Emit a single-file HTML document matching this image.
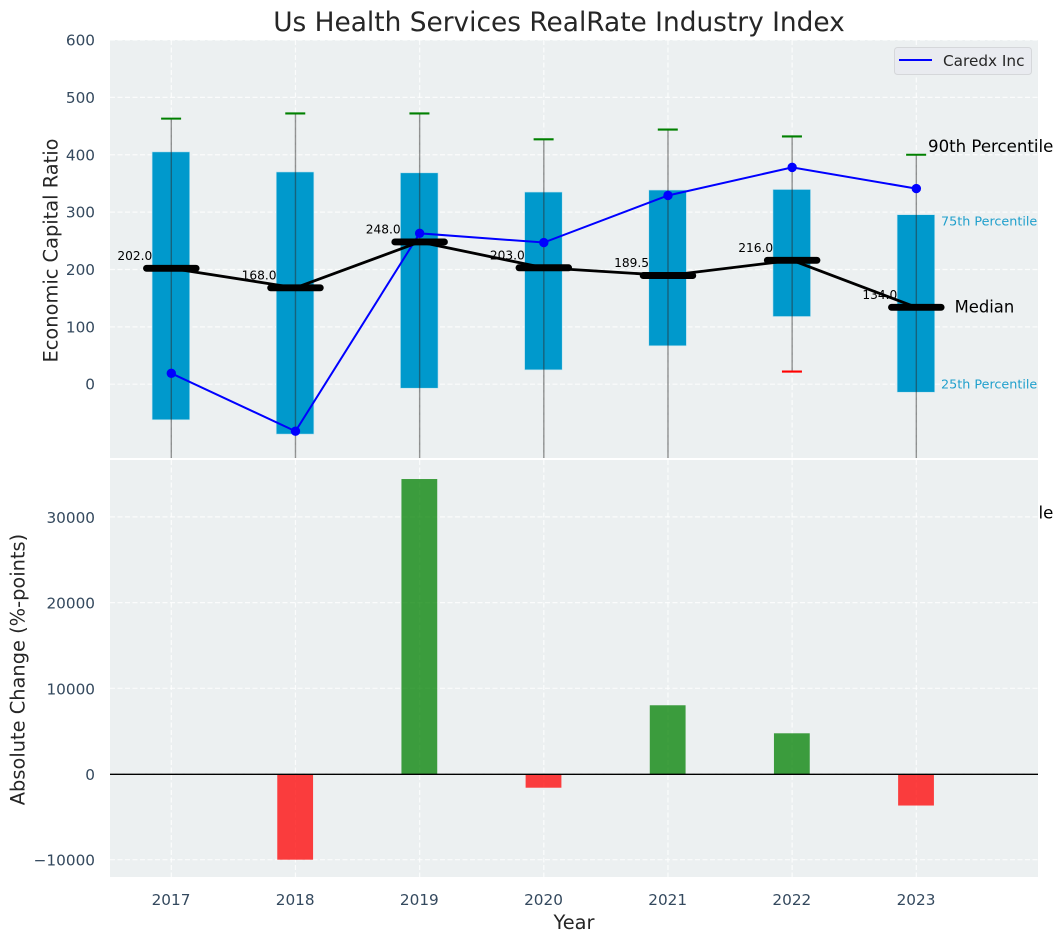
<!DOCTYPE html>
<html lang="en">
<head>
<meta charset="utf-8">
<title>Us Health Services RealRate Industry Index</title>
<style>
html,body{margin:0;padding:0;background:#fff;}
svg{display:block;}
text{font-family:"DejaVu Sans","Liberation Sans",sans-serif;}
</style>
</head>
<body>
<svg id="chart" xmlns="http://www.w3.org/2000/svg" width="1063" height="942" viewBox="0 0 1063 942">
  <defs>
    <clipPath id="clip-top"><rect x="110" y="40" width="928" height="418"/></clipPath>
    <clipPath id="clip-bottom"><rect x="110" y="460" width="928" height="417"/></clipPath>
  </defs>
  <text x="559" y="31" text-anchor="middle" font-size="26.4" fill="#262626">Us Health Services RealRate Industry Index</text>
  <g id="top-panel"></g>
  <g id="bottom-panel"></g>
  <text transform="translate(51,250.5) rotate(-90)" text-anchor="middle" dominant-baseline="central" font-size="19.4" fill="#262626">Economic Capital Ratio</text>
  <text transform="translate(18,669.5) rotate(-90)" text-anchor="middle" dominant-baseline="central" font-size="19.4" fill="#262626">Absolute Change (%-points)</text>
  <text x="574" y="929" text-anchor="middle" font-size="19.4" fill="#262626">Year</text>
</svg>
<script>
var years = [2017, 2018, 2019, 2020, 2021, 2022, 2023];
var p90 = [463, 472, 472, 427, 444, 432, 400];
var p75 = [405, 370, 368.5, 335, 338.5, 339.5, 295.5];
var medians = [202, 168, 248, 203, 189.5, 216, 134];
var p25 = [-62, -87, -7, 25, 67, 118, -14];
var p10 = [-200, -210, -190, -180, -170, 22, -240];
var company = [19, -82, 263, 247, 329, 378, 341];
var changes = [0, -10000, 34420, -1600, 8020, 4750, -3680];
var topTicks = [0, 100, 200, 300, 400, 500, 600];
var bottomTicks = [-10000, 0, 10000, 20000, 30000];
var seriesName = 'Caredx Inc';

var NS = 'http://www.w3.org/2000/svg';
function xPos(v) { return 171.3 + (v - 2017) * 124.17; }
function yTop(v) { return 384.2 - v * 0.5736; }
function yBottom(v) { return 774 - v * 0.00857; }
function add(parent, tag, attrs, txt) {
  var el = document.createElementNS(NS, tag);
  for (var k in attrs) { el.setAttribute(k, attrs[k]); }
  if (txt !== undefined) { el.textContent = txt; }
  parent.appendChild(el);
  return el;
}
function tickText(v) { return v < 0 ? '\u2212' + Math.abs(v) : String(v); }

var topPanel = document.getElementById('top-panel');
var bottomPanel = document.getElementById('bottom-panel');
var el, i;

/* ---------- top panel ---------- */
el = add(topPanel, 'rect', {x: 110, y: 40, width: 928, height: 418, fill: '#ecf0f1'});



topTicks.forEach(function (t) {
  var g = add(topPanel, 'line', {x1: 110, x2: 1038, y1: yTop(t), y2: yTop(t), stroke: '#fff', 'stroke-width': 1.2, 'stroke-dasharray': '5 2.5', 'stroke-opacity': 0.8});
  
  
  var l = add(topPanel, 'text', {x: 95, y: yTop(t) + 0.5, 'text-anchor': 'end', 'dominant-baseline': 'central', 'font-size': 15.28, fill: '#34495e'}, tickText(t));
  
  
});

var topMarks = add(topPanel, 'g', {'clip-path': 'url(#clip-top)'});



years.forEach(function (y, n) {
  var g = add(topMarks, 'line', {x1: xPos(y), x2: xPos(y), y1: 40, y2: 458, stroke: '#fff', 'stroke-width': 1.2, 'stroke-dasharray': '5 2.5', 'stroke-opacity': 0.8});
  
  
});

for (i = 0; i < years.length; i++) {
  el = add(topMarks, 'rect', {x: xPos(years[i]) - 19.2, y: yTop(p75[i]), width: 37.6, height: yTop(p25[i]) - yTop(p75[i]), fill: '#0099cc', stroke: '#bfe3ef', 'stroke-width': 0.6});
  
  

  el = add(topMarks, 'line', {x1: xPos(years[i]), x2: xPos(years[i]), y1: yTop(p90[i]), y2: yTop(p10[i]), stroke: '#2b2b2b', 'stroke-width': 1.4, 'stroke-opacity': 0.5});
  
  

  el = add(topMarks, 'line', {x1: xPos(years[i]) - 10.2, x2: xPos(years[i]) + 9.8, y1: yTop(p90[i]), y2: yTop(p90[i]), stroke: '#008000', 'stroke-width': 2.1});
  
  

  el = add(topMarks, 'line', {x1: xPos(years[i]) - 10.2, x2: xPos(years[i]) + 9.8, y1: yTop(p10[i]), y2: yTop(p10[i]), stroke: '#ff0000', 'stroke-width': 2.1});
  
  
}

el = add(topMarks, 'polyline', {fill: 'none', stroke: '#0000ff', 'stroke-width': 2, points: years.map(function (y, n) { return xPos(y) + ',' + yTop(company[n]); }).join(' ')});



company.forEach(function (v, n) {
  var c = add(topMarks, 'circle', {cx: xPos(years[n]), cy: yTop(v), r: 4.7, fill: '#0000ff'});
  
  
});

el = add(topMarks, 'polyline', {fill: 'none', stroke: '#000', 'stroke-width': 2.8, points: years.map(function (y, n) { return xPos(y) + ',' + yTop(medians[n]); }).join(' ')});



medians.forEach(function (v, n) {
  var m = add(topMarks, 'line', {x1: xPos(years[n]) - 24.8, x2: xPos(years[n]) + 24.8, y1: yTop(v), y2: yTop(v), stroke: '#000', 'stroke-width': 6.9, 'stroke-linecap': 'round'});
  
  
  var t = add(topPanel, 'text', {x: xPos(years[n]) - 19, y: yTop(v) - 12.5, 'text-anchor': 'end', 'dominant-baseline': 'central', 'font-size': 12.2, fill: '#000'}, v.toFixed(1));
  
  
});

var last = years.length - 1;
var lastX = xPos(years[last]);
el = add(topPanel, 'text', {x: lastX + 11.7, y: yTop(p90[last]) - 8.4, 'dominant-baseline': 'central', 'font-size': 16.6, fill: '#000'}, '90th Percentile');


el = add(topPanel, 'text', {x: lastX + 24.7, y: yTop(p75[last]) + 7.4, 'dominant-baseline': 'central', 'font-size': 12.75, fill: '#1f9fcc'}, '75th Percentile');


el = add(topPanel, 'text', {x: lastX + 38.3, y: yTop(medians[last]) - 0.5, 'dominant-baseline': 'central', 'font-size': 16.4, fill: '#000'}, 'Median');


el = add(topPanel, 'text', {x: lastX + 24.7, y: yTop(p25[last]) - 7.3, 'dominant-baseline': 'central', 'font-size': 12.75, fill: '#1f9fcc'}, '25th Percentile');


el = add(topPanel, 'text', {x: lastX + 11.7, y: yTop(p10[last]) - 9, 'dominant-baseline': 'central', 'font-size': 16.6, fill: '#000'}, '10th Percentile');



var legend = add(topPanel, 'g', {});


el = add(legend, 'rect', {x: 894.5, y: 47.5, width: 137, height: 27, rx: 3, fill: '#e9ebf0', stroke: '#d5d7da', 'stroke-width': 1});


el = add(legend, 'line', {x1: 899, x2: 932, y1: 60, y2: 60, stroke: '#0000ff', 'stroke-width': 2});


el = add(legend, 'text', {x: 943, y: 61, 'dominant-baseline': 'central', 'font-size': 15.28, fill: '#262626'}, seriesName);



/* ---------- bottom panel ---------- */
el = add(bottomPanel, 'rect', {x: 110, y: 460, width: 928, height: 417, fill: '#ecf0f1'});



bottomTicks.forEach(function (t) {
  var g = add(bottomPanel, 'line', {x1: 110, x2: 1038, y1: yBottom(t), y2: yBottom(t), stroke: '#fff', 'stroke-width': 1.2, 'stroke-dasharray': '5 2.5', 'stroke-opacity': 0.8});
  
  
  var l = add(bottomPanel, 'text', {x: 95, y: yBottom(t) + 1, 'text-anchor': 'end', 'dominant-baseline': 'central', 'font-size': 15.28, fill: '#34495e'}, tickText(t));
  
  
});

var bottomMarks = add(bottomPanel, 'g', {'clip-path': 'url(#clip-bottom)'});



years.forEach(function (y, n) {
  var g = add(bottomMarks, 'line', {x1: xPos(y), x2: xPos(y), y1: 460, y2: 877, stroke: '#fff', 'stroke-width': 1.2, 'stroke-dasharray': '5 2.5', 'stroke-opacity': 0.8});
  
  
  var l = add(bottomPanel, 'text', {x: xPos(y) - 0.3, y: 900, 'text-anchor': 'middle', 'dominant-baseline': 'central', 'font-size': 15.28, fill: '#34495e'}, String(y));
  
  
});

changes.forEach(function (v, n) {
  if (v === 0) { return; }
  var top = Math.min(yBottom(v), yBottom(0));
  var h = Math.abs(yBottom(v) - yBottom(0));
  var b = add(bottomMarks, 'rect', {x: xPos(years[n]) - 18.2, y: top, width: 35.8, height: h, fill: v > 0 ? '#008000' : '#ff0000', 'fill-opacity': 0.75});
  
  
});

el = add(bottomPanel, 'line', {x1: 110, x2: 1038, y1: yBottom(0) + 0.3, y2: yBottom(0) + 0.3, stroke: '#000', 'stroke-width': 1.4});


</script>
</body>
</html>
